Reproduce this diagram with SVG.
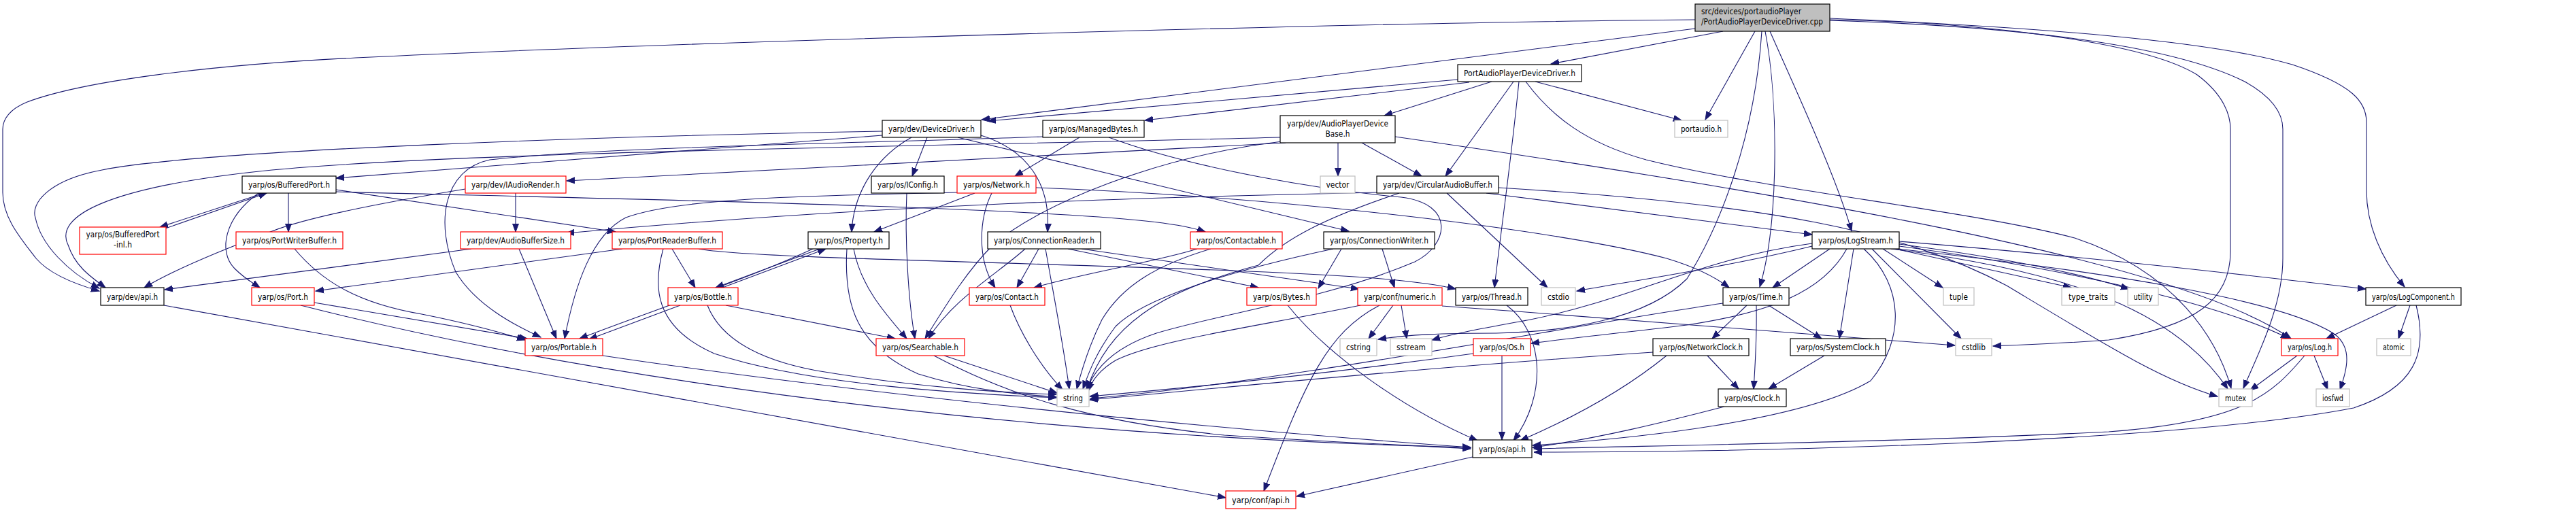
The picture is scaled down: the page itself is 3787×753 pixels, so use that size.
<svg xmlns="http://www.w3.org/2000/svg" width="3787" height="753" viewBox="0 0 3787 753">
<defs>
<marker id="arr" markerUnits="userSpaceOnUse" markerWidth="14" markerHeight="12" refX="12" refY="5" orient="auto" viewBox="0 0 14 10">
<path d="M0,0.5 L12,5 L0,9.5 z" fill="#191970" stroke="#191970" stroke-width="1"/>
</marker>
<style>
.b rect{fill:#fff;stroke:#000;stroke-width:1.2}
.r rect{fill:#fff;stroke:#ff0000;stroke-width:1.2}
.g rect{fill:#fff;stroke:#bfbfbf;stroke-width:1.2}
.m rect{fill:#bfbfbf;stroke:#000;stroke-width:1.2}
text{font-family:"DejaVu Sans","Liberation Sans",sans-serif;font-size:13px;fill:#000;text-anchor:middle}
.m text{text-anchor:start}
#edges path{fill:none;stroke:#191970;stroke-width:1.1;marker-end:url(#arr)}
</style>
</defs>
<rect width="3787" height="753" fill="#fff"/>
<g id="edges">
<path d="M2533,46 L2280,94"/>
<path d="M2492,42 L1443,176"/>
<path d="M2492,29 C2000,33 1000,62 523,85 C300,96 120,120 40,150 C15,160 4,175 4,190 L4,283 C4,320 30,350 53,380 C70,400 100,415 146,428"/>
<path d="M2580,46 L2507,176"/>
<path d="M2602,46 C2630,110 2700,260 2722,340"/>
<path d="M2595,46 C2615,150 2615,330 2587,422"/>
<path d="M2590,46 C2580,200 2530,330 2480,410 C2420,470 2300,488 2200,490 C2120,490 2070,492 2026,499"/>
<path d="M2690,29 C2900,32 3150,60 3230,110 C3270,140 3279,170 3279,190 L3279,370 C3279,440 3230,480 3100,500 C3020,506 2970,507 2930,509"/>
<path d="M2690,30 C3000,40 3200,70 3300,120 C3345,145 3356,170 3356,190 L3356,380 C3356,450 3320,520 3298,571"/>
<path d="M2690,27 C3000,40 3250,60 3370,95 C3460,125 3479,150 3479,180 L3479,280 C3479,330 3500,380 3535,422"/>
<path d="M2143,117 L1452,178"/>
<path d="M2160,121 L1683,177"/>
<path d="M2193,120 L2035,170"/>
<path d="M2225,120 L2125,259"/>
<path d="M2233,120 C2220,250 2205,350 2197,423"/>
<path d="M2243,120 C2280,170 2330,210 2420,235 C2600,280 2900,310 3050,350 C3200,400 3260,500 3280,571"/>
<path d="M2257,120 L2472,177"/>
<path d="M1297,193 C900,200 300,220 150,250 C70,265 45,300 52,320 C60,360 100,400 146,424"/>
<path d="M1297,199 L494,262"/>
<path d="M1363,202 L1341,259"/>
<path d="M1340,202 C1290,230 1255,280 1252,341"/>
<path d="M1442,199 C1510,220 1545,270 1540,341"/>
<path d="M1408,202 L1983,340"/>
<path d="M1533,201 C1300,210 900,215 720,235 C650,250 640,330 670,400 C700,450 760,480 795,496"/>
<path d="M1587,202 L1492,259"/>
<path d="M1630,202 C1760,250 1950,280 2060,290 C2140,300 2130,360 2080,385 C1950,440 1800,460 1700,490 C1640,510 1610,540 1597,574"/>
<path d="M1882,202 C1400,215 700,222 400,250 C150,275 80,320 100,360 C110,390 130,405 155,423"/>
<path d="M1890,210 L833,266"/>
<path d="M1967,210 L1967,259"/>
<path d="M2002,210 L2090,259"/>
<path d="M2051,201 C2600,280 3200,380 3368,498"/>
<path d="M1885,208 C1700,230 1530,300 1460,360 C1420,400 1390,450 1360,498"/>
<path d="M684,278 C550,300 450,320 400,340 C320,370 250,400 212,423"/>
<path d="M758,284 L758,341"/>
<path d="M693,366 L242,426"/>
<path d="M763,366 L818,498"/>
<path d="M388,284 L235,334"/>
<path d="M243,336 L392,284"/>
<path d="M424,284 L424,341"/>
<path d="M380,284 C330,320 320,370 345,395 C360,410 370,415 382,423"/>
<path d="M494,279 L905,341"/>
<path d="M494,282 C800,290 1300,300 1550,315 C1680,322 1740,330 1772,341"/>
<path d="M433,366 C470,410 520,445 620,462 C700,478 740,490 772,500"/>
<path d="M462,445 L775,498"/>
<path d="M442,449 C800,540 1400,640 2162,658"/>
<path d="M915,366 L464,428"/>
<path d="M988,366 L1022,423"/>
<path d="M975,366 C960,420 960,480 1050,520 C1200,570 1450,580 1553,585"/>
<path d="M1027,366 C1100,380 1500,385 1860,400 C2000,406 2090,413 2140,425"/>
<path d="M1205,366 L1052,423"/>
<path d="M1062,423 L1214,366"/>
<path d="M1195,366 C1100,410 950,460 852,498"/>
<path d="M1255,366 C1265,420 1300,460 1333,498"/>
<path d="M1245,366 C1240,450 1260,510 1350,550 C1430,575 1500,580 1553,584"/>
<path d="M1000,449 L866,499"/>
<path d="M1067,449 L1316,498"/>
<path d="M1040,449 C1060,500 1120,530 1200,545 C1350,570 1480,578 1553,580"/>
<path d="M1507,366 C1470,400 1400,440 1365,498"/>
<path d="M1527,366 L1495,423"/>
<path d="M1537,366 C1550,440 1562,500 1572,572"/>
<path d="M1570,366 L1850,423"/>
<path d="M1590,366 L1998,425"/>
<path d="M1760,366 C1700,385 1600,400 1520,423"/>
<path d="M1780,366 C1700,390 1650,420 1620,470 C1600,510 1590,545 1583,572"/>
<path d="M1960,366 C1800,400 1680,440 1640,480 C1610,520 1600,550 1592,572"/>
<path d="M1972,366 L1938,424"/>
<path d="M2032,366 L2050,423"/>
<path d="M2024,283 C1700,290 1300,300 832,343"/>
<path d="M2057,284 C1950,320 1890,350 1850,390 C1700,430 1630,480 1598,572"/>
<path d="M2127,284 L2275,423"/>
<path d="M2185,284 L2664,345"/>
<path d="M2203,276 C2600,300 2800,340 2950,420 C3100,510 3180,560 3260,583"/>
<path d="M1433,284 L1285,341"/>
<path d="M1458,284 C1440,320 1435,380 1463,423"/>
<path d="M1407,283 C1200,288 1000,290 920,320 C870,345 845,420 830,498"/>
<path d="M1523,276 C1900,290 2300,340 2450,380 C2500,395 2525,410 2542,423"/>
<path d="M1333,284 C1330,350 1335,440 1345,498"/>
<path d="M1388,523 L1554,578"/>
<path d="M1373,523 C1480,580 1600,620 1800,640 C1950,650 2080,655 2162,660"/>
<path d="M1485,449 C1500,490 1530,540 1562,573"/>
<path d="M1893,449 C1950,520 2060,600 2172,648"/>
<path d="M2048,449 L2012,498"/>
<path d="M2060,449 L2068,498"/>
<path d="M2028,449 C1950,490 1920,560 1858,722"/>
<path d="M2120,450 C2400,470 2700,495 2874,508"/>
<path d="M2000,449 C1850,480 1700,500 1640,530 C1615,545 1605,560 1600,575"/>
<path d="M2215,449 C2270,490 2275,580 2225,648"/>
<path d="M2208,523 L2208,647"/>
<path d="M2166,520 C1950,550 1750,570 1602,583"/>
<path d="M2568,449 L2517,498"/>
<path d="M2582,449 C2583,500 2580,540 2578,572"/>
<path d="M2600,449 L2678,498"/>
<path d="M2533,446 C2300,480 1900,560 1603,586"/>
<path d="M2510,523 L2556,572"/>
<path d="M2450,523 C2380,580 2300,620 2235,648"/>
<path d="M2430,518 C2100,540 1800,570 1602,588"/>
<path d="M2682,523 L2600,572"/>
<path d="M2535,598 C2450,620 2350,645 2253,658"/>
<path d="M241,449 L1802,732"/>
<path d="M886,523 C1200,570 1700,625 2162,658"/>
<path d="M2165,672 L1906,730"/>
<path d="M2690,366 L2606,423"/>
<path d="M2715,366 C2680,430 2600,460 2480,478 C2380,490 2300,498 2251,505"/>
<path d="M2725,366 L2704,498"/>
<path d="M2740,366 C2800,420 2800,500 2750,560 C2650,620 2400,645 2253,655"/>
<path d="M2752,366 L2883,498"/>
<path d="M2768,366 L2856,423"/>
<path d="M2786,366 L3045,423"/>
<path d="M2792,359 C2950,380 3050,400 3130,425"/>
<path d="M2792,362 C3000,390 3250,440 3365,498"/>
<path d="M2792,355 C3100,380 3350,410 3478,425"/>
<path d="M2780,366 C3050,400 3200,460 3275,572"/>
<path d="M2790,366 C3100,400 3350,440 3430,490 C3460,510 3450,545 3440,573"/>
<path d="M2664,358 C2500,380 2400,440 2250,470 C2180,483 2140,490 2105,500"/>
<path d="M2664,362 C2550,390 2420,410 2318,428"/>
<path d="M3377,523 L3308,574"/>
<path d="M3402,523 L3422,573"/>
<path d="M3388,523 C3340,580 3300,620 3100,635 C2800,650 2450,655 2255,660"/>
<path d="M3523,449 L3420,498"/>
<path d="M3543,449 L3526,498"/>
<path d="M3552,449 C3570,520 3550,570 3460,600 C3200,650 2600,665 2255,665"/>
</g>
<g id="node-main" class="m"><rect x="2492" y="6" width="198" height="40"/><text x="2501" y="21" textLength="147" lengthAdjust="spacingAndGlyphs">src/devices/portaudioPlayer</text><text x="2501" y="36" textLength="179" lengthAdjust="spacingAndGlyphs">/PortAudioPlayerDeviceDriver.cpp</text></g>
<g id="node-papdd" class="b"><rect x="2143" y="95" width="182" height="25"/><text x="2234" y="112" textLength="164" lengthAdjust="spacingAndGlyphs">PortAudioPlayerDeviceDriver.h</text></g>
<g id="node-dd" class="b"><rect x="1297" y="177" width="145" height="25"/><text x="1369.5" y="194" textLength="127" lengthAdjust="spacingAndGlyphs">yarp/dev/DeviceDriver.h</text></g>
<g id="node-mb" class="b"><rect x="1533" y="177" width="149" height="25"/><text x="1607.5" y="194" textLength="131" lengthAdjust="spacingAndGlyphs">yarp/os/ManagedBytes.h</text></g>
<g id="node-apdb" class="b"><rect x="1882" y="170" width="169" height="40"/><text x="1966.5" y="186" textLength="149" lengthAdjust="spacingAndGlyphs">yarp/dev/AudioPlayerDevice</text><text x="1966.5" y="201" textLength="36" lengthAdjust="spacingAndGlyphs">Base.h</text></g>
<g id="node-portaudio" class="g"><rect x="2462" y="177" width="78" height="25"/><text x="2501" y="194" textLength="60" lengthAdjust="spacingAndGlyphs">portaudio.h</text></g>
<g id="node-bp" class="b"><rect x="356" y="259" width="138" height="25"/><text x="425" y="276" textLength="120" lengthAdjust="spacingAndGlyphs">yarp/os/BufferedPort.h</text></g>
<g id="node-iar" class="r"><rect x="684" y="259" width="148" height="25"/><text x="758" y="276" textLength="130" lengthAdjust="spacingAndGlyphs">yarp/dev/IAudioRender.h</text></g>
<g id="node-iconfig" class="b"><rect x="1281" y="259" width="107" height="25"/><text x="1334.5" y="276" textLength="89" lengthAdjust="spacingAndGlyphs">yarp/os/IConfig.h</text></g>
<g id="node-network" class="r"><rect x="1407" y="259" width="116" height="25"/><text x="1465" y="276" textLength="98" lengthAdjust="spacingAndGlyphs">yarp/os/Network.h</text></g>
<g id="node-vector" class="g"><rect x="1941" y="259" width="51" height="25"/><text x="1966.5" y="276" textLength="34" lengthAdjust="spacingAndGlyphs">vector</text></g>
<g id="node-cab" class="b"><rect x="2024" y="259" width="179" height="25"/><text x="2113.5" y="276" textLength="161" lengthAdjust="spacingAndGlyphs">yarp/dev/CircularAudioBuffer.h</text></g>
<g id="node-bpinl" class="r"><rect x="117" y="334" width="127" height="40"/><text x="180.5" y="349" textLength="108" lengthAdjust="spacingAndGlyphs">yarp/os/BufferedPort</text><text x="180.5" y="364" textLength="27" lengthAdjust="spacingAndGlyphs">-inl.h</text></g>
<g id="node-pwb" class="r"><rect x="347" y="341" width="157" height="25"/><text x="425.5" y="358" textLength="139" lengthAdjust="spacingAndGlyphs">yarp/os/PortWriterBuffer.h</text></g>
<g id="node-abs" class="r"><rect x="677" y="341" width="162" height="25"/><text x="758" y="358" textLength="144" lengthAdjust="spacingAndGlyphs">yarp/dev/AudioBufferSize.h</text></g>
<g id="node-prb" class="r"><rect x="900" y="341" width="162" height="25"/><text x="981" y="358" textLength="144" lengthAdjust="spacingAndGlyphs">yarp/os/PortReaderBuffer.h</text></g>
<g id="node-property" class="b"><rect x="1188" y="341" width="119" height="25"/><text x="1247.5" y="358" textLength="101" lengthAdjust="spacingAndGlyphs">yarp/os/Property.h</text></g>
<g id="node-cr" class="b"><rect x="1452" y="341" width="166" height="25"/><text x="1535" y="358" textLength="148" lengthAdjust="spacingAndGlyphs">yarp/os/ConnectionReader.h</text></g>
<g id="node-contactable" class="r"><rect x="1750" y="341" width="135" height="25"/><text x="1817.5" y="358" textLength="117" lengthAdjust="spacingAndGlyphs">yarp/os/Contactable.h</text></g>
<g id="node-cw" class="b"><rect x="1946" y="341" width="163" height="25"/><text x="2027.5" y="358" textLength="145" lengthAdjust="spacingAndGlyphs">yarp/os/ConnectionWriter.h</text></g>
<g id="node-logstream" class="b"><rect x="2664" y="341" width="128" height="25"/><text x="2728" y="358" textLength="110" lengthAdjust="spacingAndGlyphs">yarp/os/LogStream.h</text></g>
<g id="node-devapi" class="b"><rect x="148" y="423" width="93" height="26"/><text x="194.5" y="440.5" textLength="75" lengthAdjust="spacingAndGlyphs">yarp/dev/api.h</text></g>
<g id="node-port" class="r"><rect x="370" y="423" width="92" height="26"/><text x="416" y="440.5" textLength="74" lengthAdjust="spacingAndGlyphs">yarp/os/Port.h</text></g>
<g id="node-bottle" class="r"><rect x="982" y="423" width="103" height="26"/><text x="1033.5" y="440.5" textLength="85" lengthAdjust="spacingAndGlyphs">yarp/os/Bottle.h</text></g>
<g id="node-contact" class="r"><rect x="1425" y="423" width="111" height="26"/><text x="1480.5" y="440.5" textLength="93" lengthAdjust="spacingAndGlyphs">yarp/os/Contact.h</text></g>
<g id="node-bytes" class="r"><rect x="1833" y="423" width="102" height="26"/><text x="1884" y="440.5" textLength="84" lengthAdjust="spacingAndGlyphs">yarp/os/Bytes.h</text></g>
<g id="node-numeric" class="r"><rect x="1996" y="423" width="124" height="26"/><text x="2058" y="440.5" textLength="106" lengthAdjust="spacingAndGlyphs">yarp/conf/numeric.h</text></g>
<g id="node-thread" class="b"><rect x="2140" y="423" width="106" height="26"/><text x="2193" y="440.5" textLength="88" lengthAdjust="spacingAndGlyphs">yarp/os/Thread.h</text></g>
<g id="node-cstdio" class="g"><rect x="2266" y="423" width="50" height="26"/><text x="2291" y="440.5" textLength="32" lengthAdjust="spacingAndGlyphs">cstdio</text></g>
<g id="node-time" class="b"><rect x="2533" y="423" width="97" height="26"/><text x="2581.5" y="440.5" textLength="79" lengthAdjust="spacingAndGlyphs">yarp/os/Time.h</text></g>
<g id="node-tuple" class="g"><rect x="2857" y="423" width="45" height="26"/><text x="2879.5" y="440.5" textLength="27" lengthAdjust="spacingAndGlyphs">tuple</text></g>
<g id="node-typetraits" class="g"><rect x="3031" y="423" width="78" height="26"/><text x="3070" y="440.5" textLength="58" lengthAdjust="spacingAndGlyphs">type_traits</text></g>
<g id="node-utility" class="g"><rect x="3128" y="423" width="45" height="26"/><text x="3150.5" y="440.5" textLength="28" lengthAdjust="spacingAndGlyphs">utility</text></g>
<g id="node-logcomp" class="b"><rect x="3478" y="423" width="140" height="26"/><text x="3548" y="440.5" textLength="122" lengthAdjust="spacingAndGlyphs">yarp/os/LogComponent.h</text></g>
<g id="node-portable" class="r"><rect x="772" y="498" width="114" height="25"/><text x="829" y="515" textLength="96" lengthAdjust="spacingAndGlyphs">yarp/os/Portable.h</text></g>
<g id="node-searchable" class="r"><rect x="1288" y="498" width="130" height="25"/><text x="1353" y="515" textLength="112" lengthAdjust="spacingAndGlyphs">yarp/os/Searchable.h</text></g>
<g id="node-cstring" class="g"><rect x="1970" y="498" width="54" height="25"/><text x="1997" y="515" textLength="36" lengthAdjust="spacingAndGlyphs">cstring</text></g>
<g id="node-sstream" class="g"><rect x="2044" y="498" width="61" height="25"/><text x="2074.5" y="515" textLength="43" lengthAdjust="spacingAndGlyphs">sstream</text></g>
<g id="node-os" class="r"><rect x="2166" y="498" width="84" height="25"/><text x="2208" y="515" textLength="66" lengthAdjust="spacingAndGlyphs">yarp/os/Os.h</text></g>
<g id="node-netclock" class="b"><rect x="2430" y="498" width="141" height="25"/><text x="2500.5" y="515" textLength="123" lengthAdjust="spacingAndGlyphs">yarp/os/NetworkClock.h</text></g>
<g id="node-sysclock" class="b"><rect x="2632" y="498" width="140" height="25"/><text x="2702" y="515" textLength="122" lengthAdjust="spacingAndGlyphs">yarp/os/SystemClock.h</text></g>
<g id="node-cstdlib" class="g"><rect x="2875" y="498" width="53" height="25"/><text x="2901.5" y="515" textLength="35" lengthAdjust="spacingAndGlyphs">cstdlib</text></g>
<g id="node-log" class="r"><rect x="3354" y="498" width="83" height="25"/><text x="3395.5" y="515" textLength="65" lengthAdjust="spacingAndGlyphs">yarp/os/Log.h</text></g>
<g id="node-atomic" class="g"><rect x="3494" y="498" width="50" height="25"/><text x="3519" y="515" textLength="32" lengthAdjust="spacingAndGlyphs">atomic</text></g>
<g id="node-string" class="g"><rect x="1554" y="572" width="47" height="26"/><text x="1577.5" y="589.5" textLength="29" lengthAdjust="spacingAndGlyphs">string</text></g>
<g id="node-clock" class="b"><rect x="2526" y="572" width="100" height="26"/><text x="2576" y="589.5" textLength="82" lengthAdjust="spacingAndGlyphs">yarp/os/Clock.h</text></g>
<g id="node-mutex" class="g"><rect x="3262" y="572" width="49" height="26"/><text x="3286.5" y="589.5" textLength="31" lengthAdjust="spacingAndGlyphs">mutex</text></g>
<g id="node-iosfwd" class="g"><rect x="3405" y="572" width="49" height="26"/><text x="3429.5" y="589.5" textLength="31" lengthAdjust="spacingAndGlyphs">iosfwd</text></g>
<g id="node-osapi" class="b"><rect x="2165" y="647" width="87" height="26"/><text x="2208.5" y="664.5" textLength="69" lengthAdjust="spacingAndGlyphs">yarp/os/api.h</text></g>
<g id="node-confapi" class="r"><rect x="1802" y="722" width="103" height="26"/><text x="1853.5" y="739.5" textLength="85" lengthAdjust="spacingAndGlyphs">yarp/conf/api.h</text></g>
</svg>
